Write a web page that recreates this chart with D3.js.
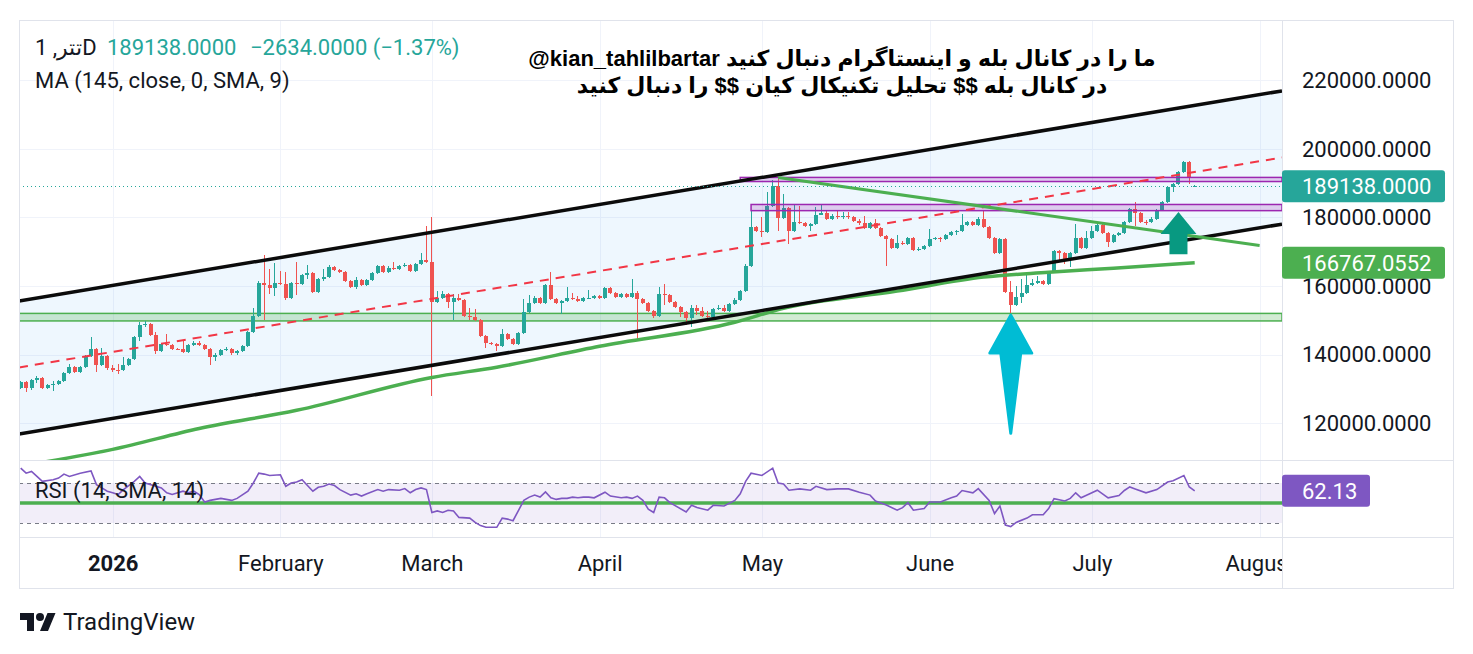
<!DOCTYPE html>
<html>
<head>
<meta charset="utf-8">
<script src="https://cdn.jsdelivr.net/npm/d3@7"></script>
<style>
body { margin: 0; background: #fff; }
svg { display: block; font-family: Roboto, "Noto Sans", sans-serif; }
</style>
</head>
<body>
<script>
// Daily candles, prices in thousands (first bar 2025-12-15)
const startDate = "2025-12-15";
const closes = [
  132.0,130.2,132.5,133.1,130.2,131.0,131.3,132.3,134.6,136.3,
  134.9,136.3,139.5,141.5,137.0,139.5,136.2,135.6,135.5,136.8,
  138.6,145.0,148.5,148.9,145.8,140.9,143.2,142.8,141.7,141.6,
  140.7,142.9,143.5,142.9,141.7,139.3,140.0,141.2,141.6,140.3,
  140.9,142.6,146.5,151.2,161.0,160.4,159.4,161.0,160.5,156.5,
  161.0,160.7,163.2,163.7,158.3,161.9,162.7,165.6,164.6,164.1,
  161.4,159.7,161.7,160.2,161.7,163.8,165.8,164.1,165.4,165.0,
  165.8,166.2,164.4,166.3,167.7,167.0,155.4,156.6,157.6,155.4,
  156.6,155.9,151.2,151.0,150.0,145.3,143.4,143.0,142.5,146.1,
  144.4,143.2,146.4,152.3,154.9,156.6,155.1,160.2,156.1,155.1,
  155.7,156.6,156.1,155.7,156.4,156.6,157.2,156.6,159.4,158.0,
  156.8,157.6,156.8,158.1,156.3,155.1,152.7,151.3,157.8,157.5,
  155.4,153.9,152.4,150.8,153.5,152.7,151.3,151.0,153.2,153.6,
  152.7,154.7,155.9,158.5,165.8,177.3,176.0,175.8,183.5,189.2,
  179.9,182.7,176.1,178.7,178.3,177.6,178.0,180.7,181.4,179.5,
  180.5,180.0,180.4,180.0,178.9,178.3,176.8,178.5,177.0,174.7,
  173.7,171.0,172.7,172.4,174.1,170.5,170.7,171.6,173.6,173.9,
  173.6,174.9,175.8,176.1,177.8,178.7,177.8,179.7,177.3,173.9,
  169.5,173.6,158.3,154.4,156.8,158.0,160.4,160.9,161.4,160.5,
  164.1,170.2,169.5,167.6,169.7,173.9,171.0,173.9,176.0,177.8,
  175.5,172.9,174.9,175.4,178.7,182.4,181.4,178.7,178.6,179.7,
  182.2,184.6,189.0,189.7,193.2,196.1,191.772,189.138
];
const highs = [
  132.3,132.2,132.8,133.8,133.4,131.3,132.3,132.6,135.0,137.3,
  136.6,136.6,139.8,145.0,141.8,141.8,139.8,136.8,137.2,139.3,
  139.0,145.4,149.6,149.8,149.2,146.6,143.5,146.0,143.1,142.0,
  144.2,143.2,144.0,143.8,143.2,142.0,140.3,141.5,142.3,141.9,
  141.3,142.9,146.8,153.5,161.4,169.0,164.9,166.6,164.5,164.0,
  161.3,166.9,163.5,166.2,164.0,162.2,165.0,166.0,165.9,164.9,
  164.4,161.7,162.6,162.0,162.0,164.1,166.1,166.1,165.7,167.0,
  166.1,166.6,166.5,166.6,169.6,177.5,180.1,158.5,158.5,157.9,
  157.6,157.8,156.2,153.6,153.3,150.3,145.6,143.7,143.3,147.4,
  146.4,144.7,146.7,156.2,157.4,157.2,156.9,160.5,164.1,156.4,
  156.0,159.6,158.0,157.0,156.7,158.8,157.5,157.5,159.7,159.7,
  158.3,157.9,157.9,162.0,158.4,156.6,155.4,153.0,159.8,160.5,
  157.8,155.7,154.2,152.7,154.4,154.4,154.0,152.6,153.5,154.5,
  154.4,155.0,156.4,158.8,166.4,182.2,177.6,180.0,187.5,190.9,
  192.1,186.8,183.0,184.0,183.5,178.6,178.3,183.0,184.0,182.0,
  181.0,182.0,181.6,181.6,180.3,179.5,180.4,178.8,179.6,177.3,
  175.0,174.0,175.0,173.0,174.4,174.4,171.5,171.9,176.5,174.3,
  174.2,175.2,176.1,176.4,181.0,179.0,179.0,180.0,181.9,177.6,
  174.2,173.9,173.9,161.6,160.0,162.0,163.5,162.0,163.0,161.7,
  164.4,170.5,170.5,170.0,170.0,178.0,174.2,176.2,177.5,178.1,
  178.1,175.8,175.2,175.7,179.0,182.7,184.5,181.7,179.2,180.0,
  182.5,184.9,189.3,190.2,193.5,196.4,196.4,189.4
];
const lows = [
  129.8,129.0,129.5,131.8,130.0,130.0,129.2,131.0,132.0,134.3,
  134.6,134.6,136.0,139.3,134.8,136.7,135.4,134.8,134.3,135.2,
  136.5,138.3,143.8,148.0,145.5,140.2,140.6,142.5,141.4,141.2,
  140.4,140.4,142.6,142.6,141.4,136.8,138.2,139.7,140.9,140.0,
  140.0,140.6,142.3,146.2,150.9,150.0,157.8,157.2,160.2,156.0,
  156.2,157.5,160.4,162.0,157.9,158.0,161.6,162.4,164.3,163.8,
  161.1,159.4,159.0,159.9,159.9,161.4,163.5,163.8,163.8,164.7,
  164.7,165.5,164.1,164.1,166.0,166.7,127.9,155.1,156.3,153.5,
  150.0,155.6,150.9,150.0,149.7,145.0,141.8,142.7,140.9,142.2,
  144.1,142.9,142.9,146.1,152.0,154.6,154.8,154.8,155.8,154.8,
  151.7,155.4,155.8,155.4,155.4,156.1,156.3,156.3,156.3,157.7,
  156.5,156.5,156.5,156.5,144.2,154.8,152.4,150.8,151.0,154.5,
  155.1,153.6,150.9,148.7,148.0,151.5,151.0,150.7,150.7,152.9,
  152.4,152.4,154.4,155.6,158.2,165.5,175.7,174.4,175.5,183.2,
  176.1,179.6,172.4,175.8,178.0,177.3,176.0,177.7,181.1,179.2,
  179.2,179.7,179.7,179.7,178.6,177.8,176.5,176.5,176.7,174.4,
  165.9,170.7,170.7,172.1,172.1,170.2,170.2,170.4,171.3,173.3,
  172.8,173.3,174.6,175.0,175.8,177.5,177.5,177.5,177.0,173.6,
  169.2,169.2,158.0,152.0,154.1,155.0,157.7,160.0,160.6,160.2,
  160.2,163.8,167.0,166.5,165.5,169.4,170.7,170.7,173.6,175.7,
  175.2,171.5,172.6,174.6,175.1,178.4,177.5,178.4,177.8,178.3,
  179.4,182.0,184.3,187.5,189.4,192.9,189.7,189.0
];
// each bar opens at the previous close, except these two
const firstOpen = 130.2;
const lastOpen = 189.1;

// MA (145, SMA, 9)
const maDates = ["2025-12-19","2026-01-01","2026-01-17","2026-02-04","2026-03-01","2026-03-13",
  "2026-04-01","2026-04-26","2026-05-05","2026-05-26","2026-06-11","2026-06-23","2026-07-05","2026-07-20"];
const maValues = [108.5,112.3,118.4,123.7,133.3,136.3,142.4,149.4,153.5,158.5,162.6,164.0,165.2,166.7670552];

// RSI (14) by bar index
const rsiBars = [0,1,2,3,4,6,7,8,9,11,13,14,15,16,17,18,19,21,22,23,25,26,27,28,30,31,32,33,34,35,36,37,39,40,
  42,43,44,45,46,48,49,50,51,52,54,55,56,57,58,59,61,62,63,64,66,67,68,70,71,72,73,74,75,76,77,78,79,80,81,
  83,84,85,86,88,89,90,91,93,94,95,96,97,98,99,100,101,102,103,104,105,106,108,109,111,112,113,114,115,116,
  117,118,119,120,123,124,125,127,128,130,132,133,134,135,137,139,140,141,142,144,146,147,149,151,153,155,
  157,158,160,162,163,164,165,167,168,170,172,173,174,176,177,179,180,181,182,183,184,186,187,189,190,191,
  193,194,195,196,198,199,201,203,204,205,206,208,210,212,213,215,216,217];
const rsiValues = [84.8,79.8,81.5,76.6,71.6,73.3,74.9,78.9,76.6,79.8,82.1,68.4,65.1,61.8,60.2,58.5,63.4,71.6,
  76.6,70.0,66.7,65.1,60.2,58.5,61.8,60.2,61.8,58.5,51.0,52.6,53.6,54.6,52.6,54.6,61.8,70.0,79.8,78.9,77.5,
  78.2,66.7,70.0,71.0,73.3,61.8,65.7,66.7,69.0,67.4,63.4,57.9,59.2,56.9,59.2,63.4,61.8,63.4,62.8,64.4,60.2,
  63.4,65.1,63.4,40.5,42.1,40.5,42.8,42.1,35.6,34.9,30.6,27.4,25.7,25.7,34.9,33.9,32.3,52.6,55.9,57.9,55.9,
  61.1,55.2,53.6,54.6,54.6,55.9,55.2,55.9,55.9,55.2,60.8,56.9,55.2,55.9,54.6,56.9,52.6,43.8,40.5,55.9,55.2,
  50.3,41.1,47.7,45.4,42.8,47.7,47.0,52.6,59.2,71.6,79.8,77.5,84.8,70.0,69.0,62.8,64.1,62.8,66.7,63.4,64.1,
  64.1,60.8,57.9,52.0,48.0,42.8,45.4,50.3,42.8,44.4,51.0,51.0,55.2,56.9,62.5,60.2,64.4,52.6,39.5,47.0,28.0,
  26.4,30.6,34.9,38.2,38.2,44.4,54.3,52.0,54.6,60.2,55.2,60.2,62.8,55.2,57.5,62.5,66.1,64.1,60.2,63.4,71.0,
  72.3,77.5,66.0,62.13];

// Drawings
const channelDates = ["2025-12-15","2026-08-03"];
const channelUpper = [155.7, 216.4];
const channelLower = [116.9, 177.5];
const zoneLow = 149.8, zoneHigh = 152.0;
const boxStarts = ["2026-04-27","2026-04-29"];
const boxLows = [190.5, 182.0];
const boxHighs = [191.7, 183.8];
const trendDates = ["2026-05-04","2026-08-01"];
const trendValues = [191.7, 171.8];
const arrowDates = ["2026-06-16","2026-07-17"];
const arrowTips = [151.5, 181.6];
const arrowTails = [117.0, 169.3];

const priceTicks = [120000,140000,160000,180000,200000,220000];
const monthTicks = ["2026-01-01","2026-02-01","2026-03-01","2026-04-01","2026-05-01","2026-06-01","2026-07-01","2026-08-01"];
const monthNames = ["2026","February","March","April","May","June","July","August"];

const K = 1000;
const W = 1473, H = 654;
const paneL = 19, paneR = 1282, mainT = 20, mainB = 460, rsiT = 461, rsiB = 537, axisB = 588, frameR = 1453;
const textColor = "#131722", upColor = "#26a69a", downColor = "#ef5350";

const parse = d3.utcParse("%Y-%m-%d");
const day0 = parse(startDate);
const bars = closes.map((c, i) => ({
  date: d3.utcDay.offset(day0, i),
  open: (i === 0 ? firstOpen : i === closes.length - 1 ? lastOpen : closes[i - 1]) * K,
  high: highs[i] * K,
  low: lows[i] * K,
  close: c * K
}));
const last = bars[bars.length - 1];

const x = d3.scaleUtc().domain([bars[0].date, last.date]).range([20.7, 1194.7]);
const y = d3.scaleLinear().domain([109200, 237660]).range([mainB, mainT]);
const yR = d3.scaleLinear().domain([16, 92.5]).range([rsiB, 460.5]);

const svg = d3.select("body").append("svg").attr("width", W).attr("height", H);
const defs = svg.append("defs");
defs.append("clipPath").attr("id", "mainClip").append("rect")
  .attr("x", paneL).attr("y", mainT).attr("width", paneR - paneL).attr("height", mainB - mainT);
defs.append("clipPath").attr("id", "rsiClip").append("rect")
  .attr("x", paneL).attr("y", rsiT).attr("width", paneR - paneL).attr("height", rsiB - rsiT);
defs.append("clipPath").attr("id", "timeClip").append("rect")
  .attr("x", paneL).attr("y", rsiB).attr("width", paneR - paneL).attr("height", axisB - rsiB);

// Grid
const grid = svg.append("g").attr("stroke", "#f0f3fa").attr("stroke-width", 1);
priceTicks.forEach(p => {
  grid.append("line").attr("x1", paneL).attr("x2", paneR)
    .attr("y1", Math.round(y(p)) + 0.5).attr("y2", Math.round(y(p)) + 0.5);
});
monthTicks.map(parse).forEach(d => {
  const xv = Math.round(x(d)) + 0.5;
  if (xv < paneR) grid.append("line").attr("x1", xv).attr("x2", xv).attr("y1", mainT).attr("y2", rsiB);
});

// Main pane
const main = svg.append("g").attr("clip-path", "url(#mainClip)");

function extend(dates, vals) {
  const p0 = [x(parse(dates[0])), y(vals[0] * K)];
  const p1 = [x(parse(dates[1])), y(vals[1] * K)];
  const s = (p1[1] - p0[1]) / (p1[0] - p0[0]);
  return [[paneL, p0[1] + (paneL - p0[0]) * s], [paneR, p0[1] + (paneR - p0[0]) * s]];
}
const up = extend(channelDates, channelUpper);
const lo = extend(channelDates, channelLower);
const mid = [[paneL, (up[0][1] + lo[0][1]) / 2], [paneR, (up[1][1] + lo[1][1]) / 2]];

main.append("path")
  .attr("d", d3.line()([up[0], up[1], lo[1], lo[0]]) + "Z")
  .attr("fill", "rgba(33,150,243,0.075)");

main.append("rect")
  .attr("x", paneL).attr("width", paneR - paneL)
  .attr("y", y(zoneHigh * K)).attr("height", y(zoneLow * K) - y(zoneHigh * K))
  .attr("fill", "rgba(76,175,80,0.25)").attr("stroke", "#4caf50").attr("stroke-width", 1.5);

// Candles
const cg = main.append("g").attr("shape-rendering", "crispEdges");
const candle = cg.selectAll("g").data(bars).join("g")
  .attr("fill", d => d.close >= d.open ? upColor : downColor)
  .attr("stroke", d => d.close >= d.open ? upColor : downColor);
candle.append("line")
  .attr("x1", d => x(d.date)).attr("x2", d => x(d.date))
  .attr("y1", d => y(d.high)).attr("y2", d => y(d.low))
  .attr("stroke-width", 1);
candle.append("rect")
  .attr("stroke", "none")
  .attr("x", d => x(d.date) - 2).attr("width", 4)
  .attr("y", d => y(Math.max(d.open, d.close)))
  .attr("height", d => Math.max(1, Math.abs(y(d.open) - y(d.close))));

// MA line
main.append("path")
  .datum(maDates.map((d, i) => [x(parse(d)), y(maValues[i] * K)]))
  .attr("d", d3.line().curve(d3.curveMonotoneX))
  .attr("fill", "none").attr("stroke", "#4caf50").attr("stroke-width", 3.5);

// Boxes
boxStarts.forEach((d, i) => {
  main.append("rect")
    .attr("x", x(parse(d))).attr("width", paneR - x(parse(d)))
    .attr("y", y(boxHighs[i] * K)).attr("height", y(boxLows[i] * K) - y(boxHighs[i] * K))
    .attr("fill", "rgba(156,39,176,0.2)").attr("stroke", "#9c27b0").attr("stroke-width", 1.5);
});

// Channel
[up, lo].forEach(l => {
  main.append("path").attr("d", d3.line()(l))
    .attr("stroke", "#0b0b0b").attr("stroke-width", 3.5).attr("fill", "none");
});
main.append("path").attr("d", d3.line()(mid))
  .attr("stroke", "#f23645").attr("stroke-width", 2).attr("stroke-dasharray", "9,7").attr("fill", "none");

// Descending trend line
main.append("path")
  .attr("d", d3.line()(trendDates.map((d, i) => [x(parse(d)), y(trendValues[i] * K)])))
  .attr("stroke", "#4caf50").attr("stroke-width", 3).attr("fill", "none");

// Last price line
main.append("line")
  .attr("x1", paneL).attr("x2", paneR)
  .attr("y1", Math.round(y(last.close)) + 0.5).attr("y2", Math.round(y(last.close)) + 0.5)
  .attr("stroke", upColor).attr("stroke-width", 1).attr("stroke-dasharray", "1,3");

// Arrows
{
  const ax = x(parse(arrowDates[0])), ty = y(arrowTips[0] * K), by = y(arrowTails[0] * K);
  main.append("path")
    .attr("d", `M${ax},${ty} L${ax + 21},${ty + 38} L${ax + 10},${ty + 38} L${ax},${by} L${ax - 10},${ty + 38} L${ax - 21},${ty + 38} Z`)
    .attr("fill", "#00bcd4").attr("stroke", "#00bcd4").attr("stroke-width", 3).attr("stroke-linejoin", "round");
}
{
  const ax = x(parse(arrowDates[1])), ty = y(arrowTips[1] * K), by = y(arrowTails[1] * K);
  main.append("path")
    .attr("d", `M${ax},${ty} L${ax + 18},${ty + 22} L${ax + 9},${ty + 22} L${ax + 9},${by} L${ax - 9},${by} L${ax - 9},${ty + 22} L${ax - 18},${ty + 22} Z`)
    .attr("fill", "#089981");
}

// RSI pane
const rsi = svg.append("g").attr("clip-path", "url(#rsiClip)");
rsi.append("rect").attr("x", paneL).attr("width", paneR - paneL)
  .attr("y", yR(70)).attr("height", yR(30) - yR(70)).attr("fill", "rgba(126,87,194,0.1)");
[70, 30].forEach(v => {
  rsi.append("line").attr("x1", paneL).attr("x2", paneR)
    .attr("y1", Math.round(yR(v)) + 0.5).attr("y2", Math.round(yR(v)) + 0.5)
    .attr("stroke", "#787b86").attr("stroke-dasharray", "4,4");
});
rsi.append("line").attr("x1", paneL).attr("x2", paneR).attr("y1", yR(50)).attr("y2", yR(50))
  .attr("stroke", "#4caf50").attr("stroke-width", 3.5);
rsi.append("path")
  .datum(rsiBars.map((b, i) => [x(bars[b].date), yR(rsiValues[i])]))
  .attr("d", d3.line())
  .attr("fill", "none").attr("stroke", "#7e57c2").attr("stroke-width", 1.6);

// Frame
const frame = svg.append("g").attr("stroke", "#e0e3eb").attr("fill", "none");
frame.append("rect").attr("x", paneL + 0.5).attr("y", mainT + 0.5).attr("width", frameR - paneL).attr("height", axisB - mainT);
frame.append("line").attr("x1", paneR + 0.5).attr("x2", paneR + 0.5).attr("y1", mainT).attr("y2", axisB);
frame.append("line").attr("x1", paneL).attr("x2", frameR).attr("y1", mainB + 0.5).attr("y2", mainB + 0.5);
frame.append("line").attr("x1", paneL).attr("x2", frameR).attr("y1", rsiB + 0.5).attr("y2", rsiB + 0.5);

// Price axis
svg.append("g").attr("transform", `translate(${paneR},0)`)
  .call(d3.axisRight(y).tickValues(priceTicks).tickFormat(d => d.toFixed(4)).tickSize(0).tickPadding(20))
  .call(g => g.select(".domain").remove())
  .selectAll("text").attr("font-size", 22).attr("font-family", "Roboto").attr("fill", textColor);

// Time axis
svg.append("g").attr("clip-path", "url(#timeClip)")
  .append("g").attr("transform", `translate(0,${rsiB})`)
  .call(d3.axisBottom(x).tickValues(monthTicks.map(parse)).tickFormat((d, i) => monthNames[i]).tickSize(0).tickPadding(18))
  .call(g => g.select(".domain").remove())
  .selectAll("text").attr("font-size", 22).attr("font-family", "Roboto").attr("fill", textColor)
  .attr("font-weight", (d, i) => i === 0 ? "bold" : "normal");

// Axis labels
function priceTag(yv, w, fill, label) {
  svg.append("rect").attr("x", paneR).attr("y", yv - 16).attr("width", w).attr("height", 32)
    .attr("rx", 3).attr("fill", fill);
  svg.append("text").attr("x", paneR + 20).attr("y", yv).attr("dy", "0.35em")
    .attr("font-size", 22).attr("fill", "#fff").text(label);
}
priceTag(y(maValues[maValues.length - 1] * K), 163, "#4caf50", (maValues[maValues.length - 1] * K).toFixed(4));
priceTag(y(last.close), 163, upColor, last.close.toFixed(4));
priceTag(yR(rsiValues[rsiValues.length - 1]), 88, "#7e57c2", rsiValues[rsiValues.length - 1].toFixed(2));

// Legend
const prevClose = bars[bars.length - 2].close;
const chg = last.close - prevClose;
const leg = svg.append("text").attr("x", 35).attr("y", 55).attr("font-size", 22).attr("fill", textColor);
leg.append("tspan").text("\u2067D\u062a\u062a\u0631, 1\u2069");
leg.append("tspan").attr("x", 107).attr("fill", upColor).text(last.close.toFixed(4));
leg.append("tspan").attr("x", 250).attr("fill", upColor)
  .text(`\u2212${Math.abs(chg).toFixed(4)} (\u2212${Math.abs(chg / prevClose * 100).toFixed(2)}%)`);
svg.append("text").attr("x", 35).attr("y", 88).attr("font-size", 22).attr("fill", textColor)
  .text("MA (145, close, 0, SMA, 9)");
svg.append("text").attr("x", 35).attr("y", 498).attr("font-size", 22).attr("fill", textColor)
  .text("RSI (14, SMA, 14)");

// Title
const titleLines = [
  "\u2067ما را در کانال بله  و اینستاگرام دنبال کنید kian_tahlilbartar@\u2069",
  "\u2067در کانال بله $$ تحلیل تکنیکال کیان $$ را دنبال کنید\u2069"
];
titleLines.forEach((t, i) => {
  svg.append("text").attr("x", 842).attr("y", 66 + i * 27)
    .attr("text-anchor", "middle").attr("font-size", 22).attr("font-weight", "bold")
    .attr("font-family", "'Liberation Sans', 'DejaVu Sans', sans-serif")
    .attr("fill", "#000").text(t);
});

// TradingView logo
const logo = svg.append("g").attr("transform", "translate(20,609)").attr("fill", textColor);
logo.append("path").attr("d", "M14 22H7V11H0V4h14v18zM28 22h-8l7.5-18h8L28 22z");
logo.append("circle").attr("cx", 20).attr("cy", 8).attr("r", 4);
svg.append("text").attr("x", 63).attr("y", 630).attr("font-size", 24).attr("fill", textColor)
  .text("TradingView");
</script>
</body>
</html>
